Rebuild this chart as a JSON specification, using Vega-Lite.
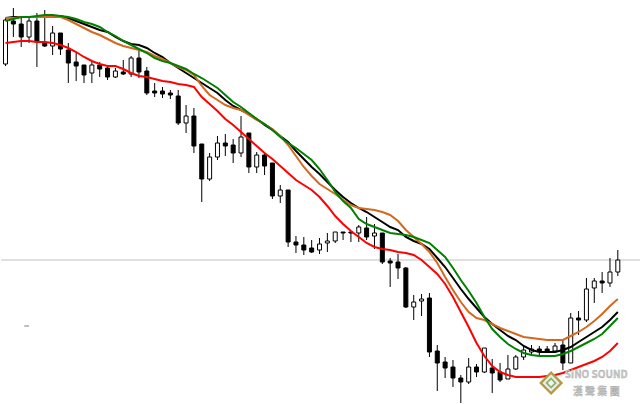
{
"$schema": "https://vega.github.io/schema/vega-lite/v6.json",
"width": 641, "height": 404,
"autosize": {"type": "fit", "contains": "padding"},
"padding": 0,
"background": "white",
"config": {"view": {"stroke": null}},
"data": {"values": [
{"k":0,"o":340,"h":386,"l":338,"c":384,"r":361,"or":386,"bk":386,"g":383},
{"k":1,"o":383,"h":396,"l":367,"c":380,"r":362,"or":386,"bk":387,"g":385},
{"k":2,"o":380,"h":386,"l":357,"c":367,"r":363,"or":387,"bk":387,"g":387},
{"k":3,"o":367,"h":386,"l":361,"c":383,"r":363,"or":387,"bk":387,"g":387},
{"k":4,"o":383,"h":391,"l":337,"c":362,"r":362,"or":387,"bk":387,"g":388},
{"k":5,"o":361,"h":394,"l":357,"c":358,"r":362,"or":387,"bk":387,"g":389},
{"k":6,"o":358,"h":378,"l":349,"c":371,"r":361,"or":387,"bk":388,"g":389},
{"k":7,"o":371,"h":371,"l":349,"c":355,"r":359,"or":387,"bk":388,"g":388},
{"k":8,"o":354,"h":361,"l":321,"c":341,"r":356,"or":384,"bk":386,"g":387},
{"k":9,"o":342,"h":351,"l":323,"c":338,"r":352,"or":380,"bk":383,"g":385},
{"k":10,"o":339,"h":339,"l":321,"c":329,"r":347,"or":376,"bk":380,"g":382},
{"k":11,"o":331,"h":342,"l":321,"c":339,"r":343,"or":372,"bk":377,"g":380},
{"k":12,"o":339,"h":342,"l":327,"c":335,"r":340,"or":369,"bk":374,"g":377},
{"k":13,"o":336,"h":339,"l":324,"c":327,"r":338,"or":365,"bk":372,"g":372},
{"k":14,"o":327,"h":336,"l":326,"c":333,"r":338,"or":361,"bk":367,"g":368},
{"k":15,"o":332,"h":344,"l":329,"c":330,"r":335,"or":358,"bk":363,"g":363},
{"k":16,"o":330,"h":348,"l":327,"c":346,"r":331,"or":356,"bk":360,"g":359},
{"k":17,"o":346,"h":354,"l":326,"c":332,"r":328,"or":354,"bk":359,"g":355},
{"k":18,"o":333,"h":337,"l":309,"c":311,"r":327,"or":352,"bk":356,"g":351},
{"k":19,"o":313,"h":321,"l":307,"c":311,"r":325,"or":348,"bk":351,"g":346},
{"k":20,"o":313,"h":317,"l":306,"c":310,"r":323,"or":345,"bk":347,"g":343},
{"k":21,"o":311,"h":314,"l":305,"c":309,"r":322,"or":341,"bk":341,"g":341},
{"k":22,"o":308,"h":314,"l":279,"c":281,"r":320,"or":337,"bk":336,"g":338},
{"k":23,"o":281,"h":299,"l":271,"c":288,"r":319,"or":334,"bk":331,"g":335},
{"k":24,"o":288,"h":296,"l":251,"c":258,"r":317,"or":329,"bk":326,"g":330},
{"k":25,"o":260,"h":260,"l":202,"c":225,"r":307,"or":318,"bk":321,"g":326},
{"k":26,"o":225,"h":251,"l":223,"c":247,"r":300,"or":309,"bk":316,"g":321},
{"k":27,"o":247,"h":268,"l":244,"c":261,"r":293,"or":304,"bk":311,"g":316},
{"k":28,"o":261,"h":270,"l":248,"c":258,"r":285,"or":299,"bk":304,"g":309},
{"k":29,"o":259,"h":265,"l":241,"c":251,"r":279,"or":296,"bk":298,"g":302},
{"k":30,"o":251,"h":288,"l":247,"c":267,"r":272,"or":294,"bk":294,"g":297},
{"k":31,"o":271,"h":271,"l":231,"c":237,"r":265,"or":289,"bk":290,"g":291},
{"k":32,"o":237,"h":252,"l":231,"c":249,"r":258,"or":284,"bk":285,"g":285},
{"k":33,"o":249,"h":252,"l":229,"c":238,"r":251,"or":280,"bk":279,"g":280},
{"k":34,"o":241,"h":241,"l":205,"c":208,"r":245,"or":275,"bk":274,"g":274},
{"k":35,"o":208,"h":219,"l":201,"c":214,"r":238,"or":268,"bk":268,"g":267},
{"k":36,"o":214,"h":214,"l":157,"c":162,"r":231,"or":259,"bk":262,"g":261},
{"k":37,"o":162,"h":168,"l":151,"c":159,"r":224,"or":248,"bk":253,"g":256},
{"k":38,"o":159,"h":167,"l":149,"c":154,"r":219,"or":237,"bk":245,"g":250},
{"k":39,"o":156,"h":164,"l":151,"c":152,"r":214,"or":228,"bk":237,"g":244},
{"k":40,"o":154,"h":166,"l":150,"c":160,"r":207,"or":220,"bk":230,"g":235},
{"k":41,"o":161,"h":171,"l":152,"c":163,"r":198,"or":215,"bk":222,"g":224},
{"k":42,"o":163,"h":172,"l":161,"c":172,"r":188,"or":210,"bk":214,"g":212},
{"k":43,"o":172,"h":172,"l":164,"c":171,"r":180,"or":204,"bk":207,"g":203},
{"k":44,"o":172,"h":172,"l":162,"c":171,"r":173,"or":199,"bk":201,"g":196},
{"k":45,"o":171,"h":179,"l":162,"c":177,"r":167,"or":196,"bk":196,"g":185},
{"k":46,"o":176,"h":187,"l":164,"c":167,"r":161,"or":195,"bk":192,"g":180},
{"k":47,"o":168,"h":180,"l":155,"c":171,"r":157,"or":194,"bk":187,"g":177},
{"k":48,"o":171,"h":171,"l":140,"c":142,"r":155,"or":192,"bk":182,"g":174},
{"k":49,"o":143,"h":146,"l":117,"c":141,"r":154,"or":189,"bk":177,"g":171},
{"k":50,"o":142,"h":150,"l":125,"c":136,"r":152,"or":183,"bk":174,"g":170},
{"k":51,"o":136,"h":137,"l":96,"c":97,"r":151,"or":174,"bk":167,"g":169},
{"k":52,"o":97,"h":109,"l":84,"c":102,"r":149,"or":167,"bk":163,"g":167},
{"k":53,"o":103,"h":110,"l":88,"c":105,"r":144,"or":160,"bk":160,"g":164},
{"k":54,"o":106,"h":111,"l":47,"c":52,"r":137,"or":152,"bk":155,"g":161},
{"k":55,"o":53,"h":59,"l":13,"c":41,"r":130,"or":141,"bk":146,"g":154},
{"k":56,"o":42,"h":47,"l":26,"c":36,"r":120,"or":127,"bk":137,"g":147},
{"k":57,"o":37,"h":44,"l":17,"c":26,"r":107,"or":114,"bk":126,"g":136},
{"k":58,"o":26,"h":29,"l":1,"c":22,"r":92,"or":102,"bk":115,"g":124},
{"k":59,"o":22,"h":46,"l":20,"c":37,"r":77,"or":92,"bk":105,"g":113},
{"k":60,"o":37,"h":40,"l":27,"c":32,"r":61,"or":86,"bk":96,"g":101},
{"k":61,"o":32,"h":56,"l":31,"c":56,"r":48,"or":84,"bk":87,"g":87},
{"k":62,"o":36,"h":45,"l":11,"c":31,"r":38,"or":80,"bk":80,"g":75},
{"k":63,"o":32,"h":41,"l":22,"c":24,"r":32,"or":76,"bk":74,"g":67},
{"k":64,"o":25,"h":49,"l":25,"c":35,"r":29,"or":73,"bk":68,"g":60},
{"k":65,"o":35,"h":49,"l":34,"c":47,"r":27,"or":70,"bk":64,"g":55},
{"k":66,"o":47,"h":58,"l":44,"c":54,"r":27,"or":67,"bk":58,"g":51},
{"k":67,"o":52,"h":59,"l":48,"c":55,"r":27,"or":66,"bk":54,"g":49},
{"k":68,"o":55,"h":58,"l":49,"c":53,"r":27,"or":65,"bk":52,"g":48},
{"k":69,"o":55,"h":58,"l":51,"c":53,"r":28,"or":64,"bk":52,"g":48},
{"k":70,"o":53,"h":61,"l":51,"c":58,"r":29,"or":64,"bk":52,"g":48},
{"k":71,"o":59,"h":64,"l":34,"c":41,"r":31,"or":64,"bk":54,"g":50},
{"k":72,"o":41,"h":91,"l":41,"c":86,"r":34,"or":68,"bk":57,"g":53},
{"k":73,"o":86,"h":93,"l":69,"c":84,"r":37,"or":72,"bk":62,"g":57},
{"k":74,"o":84,"h":126,"l":82,"c":115,"r":40,"or":77,"bk":67,"g":61},
{"k":75,"o":116,"h":126,"l":101,"c":123,"r":43,"or":83,"bk":72,"g":65},
{"k":76,"o":123,"h":132,"l":111,"c":121,"r":47,"or":90,"bk":77,"g":70},
{"k":77,"o":121,"h":146,"l":117,"c":132,"r":53,"or":98,"bk":84,"g":78},
{"k":78,"o":132,"h":154,"l":128,"c":144,"r":61,"or":105,"bk":92,"g":86}
]},
"layer": [
{"data": {"values": [{"level": 144}]},
 "mark": {"type": "rule", "color": "#c0c0c0", "strokeWidth": 1},
 "encoding": {"y": {"field": "level", "type": "quantitative", "scale": {"domain": [0, 404], "nice": false, "zero": false}, "axis": null}}},
{"data": {"values": [{"a": 2.375, "b": 3.0, "v": 78}]},
 "mark": {"type": "rule", "color": "#808080", "strokeWidth": 1},
 "encoding": {
  "x": {"field": "a", "type": "quantitative", "scale": {"domain": [0.0625, 80.1875], "nice": false, "zero": false}, "axis": null},
  "x2": {"field": "b"},
  "y": {"field": "v", "type": "quantitative", "scale": {"domain": [0, 404], "nice": false, "zero": false}, "axis": null}}},
{"mark": {"type": "rule", "color": "black", "strokeWidth": 1},
 "encoding": {
  "x": {"field": "k", "type": "quantitative", "scale": {"domain": [0.0625, 80.1875], "nice": false, "zero": false}, "axis": null},
  "y": {"field": "l", "type": "quantitative", "scale": {"domain": [0, 404], "nice": false, "zero": false}, "axis": null},
  "y2": {"field": "h"}}},
{"mark": {"type": "bar", "width": 4, "stroke": "black", "strokeWidth": 1},
 "encoding": {
  "x": {"field": "k", "type": "quantitative", "scale": {"domain": [0.0625, 80.1875], "nice": false, "zero": false}, "axis": null},
  "y": {"field": "o", "type": "quantitative", "scale": {"domain": [0, 404], "nice": false, "zero": false}, "axis": null},
  "y2": {"field": "c"},
  "fill": {"condition": {"test": "datum.c >= datum.o", "value": "white"}, "value": "black"}}},
{"mark": {"type": "line", "color": "black", "strokeWidth": 2},
 "encoding": {
  "x": {"field": "k", "type": "quantitative", "scale": {"domain": [0.0625, 80.1875], "nice": false, "zero": false}, "axis": null},
  "y": {"field": "bk", "type": "quantitative", "scale": {"domain": [0, 404], "nice": false, "zero": false}, "axis": null}}},
{"mark": {"type": "line", "color": "#d2691e", "strokeWidth": 2},
 "encoding": {
  "x": {"field": "k", "type": "quantitative", "scale": {"domain": [0.0625, 80.1875], "nice": false, "zero": false}, "axis": null},
  "y": {"field": "or", "type": "quantitative", "scale": {"domain": [0, 404], "nice": false, "zero": false}, "axis": null}}},
{"mark": {"type": "line", "color": "#008000", "strokeWidth": 2},
 "encoding": {
  "x": {"field": "k", "type": "quantitative", "scale": {"domain": [0.0625, 80.1875], "nice": false, "zero": false}, "axis": null},
  "y": {"field": "g", "type": "quantitative", "scale": {"domain": [0, 404], "nice": false, "zero": false}, "axis": null}}},
{"mark": {"type": "line", "color": "#ff0000", "strokeWidth": 2},
 "encoding": {
  "x": {"field": "k", "type": "quantitative", "scale": {"domain": [0.0625, 80.1875], "nice": false, "zero": false}, "axis": null},
  "y": {"field": "r", "type": "quantitative", "scale": {"domain": [0, 404], "nice": false, "zero": false}, "axis": null}}},
{"data": {"values": [{"k": 69.5, "v": 21, "s": 576, "col": "#b39a45"}, {"k": 69.5, "v": 21, "s": 300, "col": "#ececec"}, {"k": 69.5, "v": 21, "s": 130, "col": "#8db36e"}, {"k": 69.5, "v": 21, "s": 40, "col": "#f4f4f4"}]},
 "mark": {"type": "point", "shape": "diamond", "filled": true, "opacity": 1},
 "encoding": {
  "x": {"field": "k", "type": "quantitative", "scale": {"domain": [0.0625, 80.1875], "nice": false, "zero": false}, "axis": null},
  "y": {"field": "v", "type": "quantitative", "scale": {"domain": [0, 404], "nice": false, "zero": false}, "axis": null},
  "size": {"field": "s", "type": "quantitative", "scale": null, "legend": null},
  "color": {"field": "col", "type": "nominal", "scale": null, "legend": null},
  "order": {"field": "s", "sort": "descending"}}},
{"data": {"values": [{"k": 75.25, "v": 29, "t": "SiNO SOUND", "fs": 10}, {"k": 75.25, "v": 12, "t": "漢 聲 集 團", "fs": 10}]},
 "mark": {"type": "text", "font": "Noto Sans CJK TC", "fontWeight": "bold", "fill": "#c8c8c8", "stroke": "#a8a8a8", "strokeWidth": 0.3},
 "encoding": {
  "x": {"field": "k", "type": "quantitative", "scale": {"domain": [0.0625, 80.1875], "nice": false, "zero": false}, "axis": null},
  "y": {"field": "v", "type": "quantitative", "scale": {"domain": [0, 404], "nice": false, "zero": false}, "axis": null},
  "text": {"field": "t"},
  "size": {"field": "fs", "type": "quantitative", "scale": null, "legend": null}}}
]
}
